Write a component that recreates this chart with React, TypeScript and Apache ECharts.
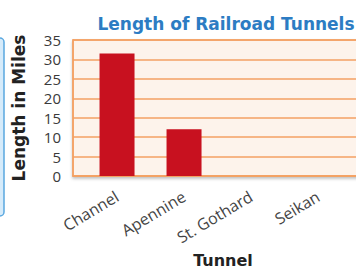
import React, { useEffect, useRef } from "react";
import * as echarts from "echarts";

const tunnels = ["Channel", "Apennine", "St. Gothard", "Seikan"];
const lengths: (number | null)[] = [31.5, 12, null, null];
const yTicks = [0, 5, 10, 15, 20, 25, 30, 35];

export default function App() {
  const ref = useRef<HTMLDivElement>(null);
  useEffect(() => {
    document.body.style.margin = "0";
    const chart = echarts.init(ref.current!, null, { renderer: "svg" });
    const orange = "#f3a163";
    chart.setOption({
      animation: false,
      title: {
        text: "Length of Railroad Tunnels",
        left: 221,
        textAlign: "center",
        top: 10,
        textStyle: { fontFamily: "DejaVu Sans", fontWeight: "bold", fontSize: 17, color: "#2c7cc3" },
      },
      graphic: [
        {
          type: "rect",
          shape: { x: -8, y: 38, width: 12, height: 178, r: 4 },
          style: { fill: "#d6ebfa", stroke: "#5aa8e0", lineWidth: 1.5 },
          z: 0,
        },
      ],
      grid: {
        left: 73,
        top: 40,
        width: 300,
        height: 136,
        outerBoundsMode: "none",
        containLabel: false,
        show: true,
        backgroundColor: "#fdf3eb",
        borderColor: orange,
        borderWidth: 1.5,
        shadowColor: "rgba(0,0,0,0.25)",
        shadowBlur: 3,
        shadowOffsetY: 2,
      },
      xAxis: {
        type: "value",
        min: -0.657,
        max: 3.82,
        name: "Tunnel",
        nameLocation: "middle",
        nameGap: 76,
        nameTextStyle: { fontFamily: "DejaVu Sans", fontWeight: "bold", fontSize: 16, color: "#222" },
        axisLine: { show: true, onZero: false, lineStyle: { color: orange, width: 1.5 } },
        axisTick: { show: false },
        splitLine: { show: false },
        axisLabel: {
          customValues: [0, 1, 2, 3],
          formatter: (v: number) => tunnels[Math.round(v)] ?? "",
          rotate: 31,
          margin: 19,
          fontFamily: "Open Sans",
          fontSize: 16,
          color: "#444",
        },
      },
      yAxis: {
        type: "value",
        min: 0,
        max: 35,
        interval: 5,
        name: "Length in Miles",
        nameLocation: "middle",
        nameGap: 46,
        nameTextStyle: { fontFamily: "DejaVu Sans", fontWeight: "bold", fontSize: 17, color: "#222" },
        axisLine: { show: true, onZero: false, lineStyle: { color: orange, width: 1.5 } },
        axisTick: { show: false },
        splitLine: { show: true, lineStyle: { color: orange, width: 1.5 } },
        axisLabel: {
          formatter: (v: number) => (yTicks.includes(v) ? String(v) : ""),
          margin: 12,
          fontFamily: "Open Sans",
          fontSize: 15,
          lineHeight: 16,
          color: "#3a3a3a",
        },
      },
      series: [
        {
          type: "bar",
          barWidth: 35,
          data: lengths.map((v, i) => [i, v]),
          itemStyle: { color: "#c8111f" },
        },
      ],
    });
    return () => chart.dispose();
  }, []);
  return <div ref={ref} style={{ width: 356, height: 270 }} />;
}
